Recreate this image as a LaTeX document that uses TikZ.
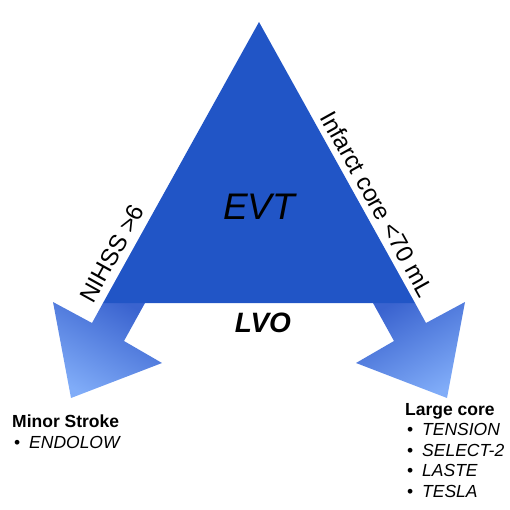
\documentclass[tikz,border=0pt]{standalone}
\usepackage{fontspec}
\setmainfont{Liberation Sans}
\usetikzlibrary{positioning}

\definecolor{evtblue}{HTML}{2155C6}
\definecolor{flowdark}{HTML}{3A63CF}
\definecolor{flowlight}{HTML}{80ACF8}

\begin{document}
\begin{tikzpicture}[
  x=1pt, y=-1pt,
  tri/.style={fill=evtblue},
  flow/.style={top color=flowdark, bottom color=flowlight},
  edgelabel/.style={font=\fontsize{24}{28}\selectfont, sloped, above},
  listtext/.style={font=\fontsize{17.5}{20.5}\selectfont, align=left, inner sep=0pt, anchor=north west},
  bul/.style={}
]
  \useasboundingbox (0,0) rectangle (510,510);

  % corners of the triangle
  \coordinate (apex) at (259,22);
  \coordinate (bl) at (103,303);
  \coordinate (br) at (415,303);

  % the two arrows, behind the triangle
  \shade[flow, shading angle=-29] (bl) -- (145,303) -- (124,341) -- (162,363)
    -- (71,398) -- (53,302) -- (92,323) -- cycle;
  \shade[flow, shading angle=29] (br) -- (373,303) -- (394,341) -- (356,363)
    -- (447,398) -- (465,302) -- (426,323) -- cycle;

  \fill[tri] (apex) -- (bl) -- (br) -- cycle;

  \node[font=\fontsize{37}{44}\selectfont\itshape] (evt) at (259,207) {EVT};
  \node[font=\fontsize{28}{34}\selectfont\bfseries\itshape] (lvo) at (263,323) {LVO};

  \path (bl) -- (apex) node[edgelabel, pos=0.148, above=4pt] (nihss) {NIHSS >6};
  \path (apex) -- (br) node[edgelabel, pos=0.674, above=3pt] (core) {Infarct core <70 mL};

  \newcommand{\bulitem}[1]{\hspace*{2pt}\makebox[15pt][l]{\textbullet}\textit{#1}}
  \node[listtext] (minor) at (12,415) {\textbf{Minor Stroke}\\ \bulitem{ENDOLOW}};
  \node[listtext] (large) at (405,403) {\textbf{Large core}\\ \bulitem{TENSION}\\
    \bulitem{SELECT-2}\\ \bulitem{LASTE}\\ \bulitem{TESLA}};
\end{tikzpicture}
\end{document}
